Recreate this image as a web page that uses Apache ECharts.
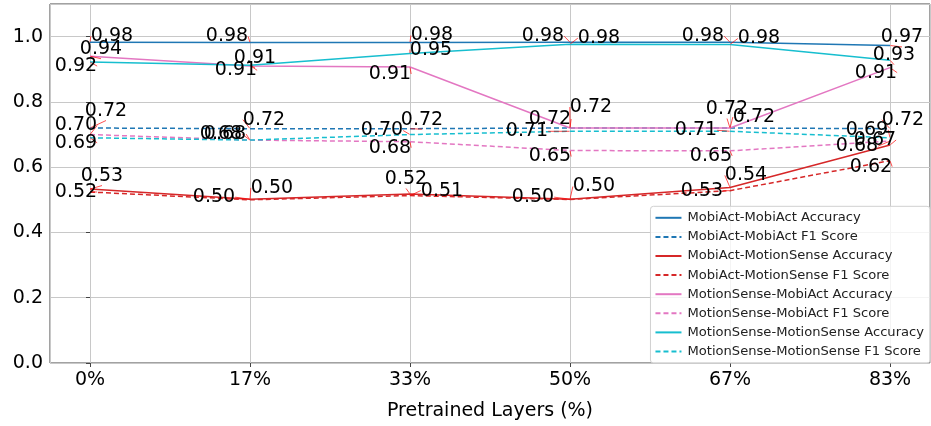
<!DOCTYPE html>
<html>
<head>
<meta charset="utf-8">
<script src="https://cdn.jsdelivr.net/npm/echarts@6/dist/echarts.min.js"></script>
<style>
  html, body { margin: 0; padding: 0; background: #fff; }
  #chart { width: 931px; height: 426px; }
</style>
</head>
<body>
<div id="chart"></div>
<script>
// categories on the x axis
const layers = ['0%', '17%', '33%', '50%', '67%', '83%'];

// one array per line
const mobiMobiAcc = [0.983, 0.982, 0.982, 0.983, 0.983, 0.973];
const mobiMobiF1 = [0.720, 0.718, 0.718, 0.720, 0.720, 0.718];
const mobiMotionAcc = [0.533, 0.502, 0.518, 0.502, 0.538, 0.668];
const mobiMotionF1 = [0.524, 0.500, 0.513, 0.501, 0.528, 0.620];
const motionMobiAcc = [0.940, 0.910, 0.907, 0.720, 0.720, 0.905];
const motionMobiF1 = [0.700, 0.683, 0.678, 0.651, 0.650, 0.680];
const motionMotionAcc = [0.922, 0.912, 0.948, 0.977, 0.976, 0.928];
const motionMotionF1 = [0.690, 0.683, 0.700, 0.710, 0.710, 0.690];

const lines = [
    { name: 'MobiAct-MobiAct Accuracy', data: mobiMobiAcc, color: '#1f77b4', dash: false },
    { name: 'MobiAct-MobiAct F1 Score', data: mobiMobiF1, color: '#1f77b4', dash: true },
    { name: 'MobiAct-MotionSense Accuracy', data: mobiMotionAcc, color: '#d62728', dash: false },
    { name: 'MobiAct-MotionSense F1 Score', data: mobiMotionF1, color: '#d62728', dash: true },
    { name: 'MotionSense-MobiAct Accuracy', data: motionMobiAcc, color: '#e377c2', dash: false },
    { name: 'MotionSense-MobiAct F1 Score', data: motionMobiF1, color: '#e377c2', dash: true },
    { name: 'MotionSense-MotionSense Accuracy', data: motionMotionAcc, color: '#17becf', dash: false },
    { name: 'MotionSense-MotionSense F1 Score', data: motionMotionF1, color: '#17becf', dash: true }
];

// where each value label sits relative to its point (px), like the adjusted labels in the original
const labelShift = [
    [[22, -6], [-23, -6], [22, -7], [-27, -6], [-27, -6], [12, -8]],
    [[16, -17], [14, -9], [12, -9], [21, -21], [24, -11], [13, -9]],
    [[12, -13], [-36, -2], [-4, -15], [-37, -2], [16, -12], [-15, -5]],
    [[-14, 0], [22, -12], [32, -5], [24, -13], [-28, 0], [-19, 6]],
    [[11, -7], [5, -8], [-20, 7], [-20, -9], [-3, -19], [-14, 5]],
    [[-14, -9], [-29, -6], [-20, 6], [-20, 6], [-19, 5], [-33, 5]],
    [[-14, 4], [-14, 5], [21, -4], [29, -6], [29, -6], [4, -5]],
    [[-14, 5], [-25, -6], [-28, -4], [-43, 0], [-34, -1], [-23, -8]]
];

const font = 'DejaVu Sans';

const chart = echarts.init(document.getElementById('chart'));

const option = {
    animation: false,
    grid: {
        left: 50,
        right: 1,
        top: 4,
        bottom: 56,
        show: true,
        borderColor: '#444',
        borderWidth: 1
    },
    legend: {
        orient: 'vertical',
        right: 1,
        bottom: 63,
        itemWidth: 26,
        itemHeight: 14,
        itemGap: 6.1,
        padding: [5, 6, 5, 4],
        backgroundColor: 'rgba(255,255,255,0.8)',
        borderColor: '#d0d0d0',
        borderWidth: 1,
        borderRadius: 3,
        textStyle: { fontFamily: font, fontSize: 13.1, color: '#222', padding: [0, 0, 0, 1] },
        data: lines.map(l => l.name)
    },
    xAxis: {
        type: 'value',
        min: -0.25,
        max: 5.25,
        minInterval: 1,
        maxInterval: 1,
        name: 'Pretrained Layers (%)',
        nameLocation: 'middle',
        nameGap: 39,
        nameTextStyle: { fontFamily: font, fontSize: 19, color: '#000' },
        axisLine: { show: false },
        axisTick: {
            show: true, inside: false, length: 4,
            lineStyle: { color: '#444' }
        },
        axisLabel: {
            margin: 8,
            fontFamily: font,
            fontSize: 19,
            color: '#000',
            showMinLabel: false,
            showMaxLabel: false,
            formatter: v => (Number.isInteger(v) ? layers[v] : '')
        },
        splitLine: { show: true, lineStyle: { color: '#c8c8c8', width: 1 } }
    },
    yAxis: {
        type: 'value',
        min: 0,
        max: 1.1,
        interval: 0.2,
        axisLine: { show: false },
        axisTick: { show: true, length: 4, lineStyle: { color: '#444' } },
        axisLabel: {
            margin: 7,
            fontFamily: font,
            fontSize: 19,
            color: '#000',
            showMaxLabel: false,
            formatter: v => v.toFixed(1)
        },
        splitLine: { show: true, lineStyle: { color: '#c8c8c8', width: 1 } }
    },
    series: lines.map((l, s) => ({
        name: l.name,
        type: 'line',
        data: l.data.map((v, i) => [i, v]),
        symbol: 'circle',
        symbolSize: 1,
        color: l.color,
        itemStyle: { color: 'rgba(0,0,0,0)' },
        lineStyle: { color: l.color, width: 1.5, type: l.dash ? [5, 3] : 'solid' },
        label: {
            show: true,
            position: 'inside',
            fontFamily: font,
            fontSize: 19,
            color: '#000',
            formatter: p => p.value[1].toFixed(2)
        },
        labelLine: {
            show: true,
            length2: 0,
            lineStyle: { color: '#ff0000', width: 0.7 }
        },
        labelLayout: p => ({
            dx: labelShift[s][p.dataIndex][0],
            dy: labelShift[s][p.dataIndex][1]
        }),
        z: 2
    }))
};

chart.setOption(option);
</script>
</body>
</html>
